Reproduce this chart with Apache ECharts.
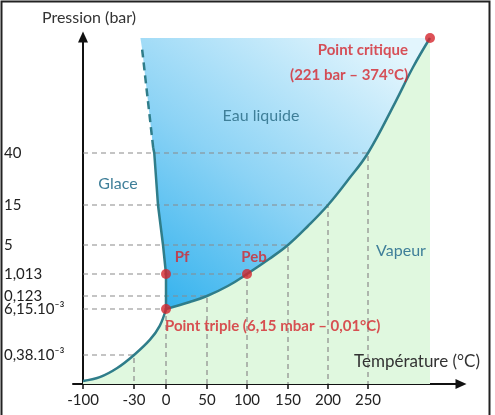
<!DOCTYPE html>
<html>
<head>
<meta charset="utf-8">
<script src="https://cdn.jsdelivr.net/npm/echarts@6/dist/echarts.min.js"></script>
<style>
  html, body { margin: 0; padding: 0; background: #fff; }
  #chart { width: 495px; height: 415px; }
</style>
</head>
<body>
<div id="chart"></div>
<script>
// graduations des axes
const tempTicks = [-100, -30, 0, 50, 100, 150, 200, 250];
const pressTicks = [0.00038, 0.00615, 0.123, 1.013, 5, 15, 40];
const pressLabels = ['0,38.10⁻³', '6,15.10⁻³', '0,123', '1,013', '5', '15', '40'];

// courbes d'equilibre, points [T (°C), P (bar)]
const sublimation = [[-100, 0.00004], [-77, 0.00009], [-53, 0.00021], [-30, 0.00038], [-15, 0.0023], [-6, 0.004], [0.01, 0.00615]];
const vaporisation = [[0.01, 0.00615], [29, 0.069], [50, 0.123], [76, 0.527], [100, 1.013], [127, 3.08], [150, 5], [175, 9.75],
  [200, 15], [225, 27], [250, 40], [304, 119], [340, 175], [374, 221]];
const fusion = [[0.01, 0.00615], [0, 1.013], [-2.8, 5], [-7.5, 15], [-11, 40], [-12, 48]];
const fusionHautePression = [[-12, 48], [-22.5, 205]];
const liquideHaut = [-24, 221];

// points remarquables
const pointTriple = [0.01, 0.00615];
const pointFusion = [0, 1.013];
const pointEbullition = [100, 1.013];
const pointCritique = [374, 221];

// lignes de rappel (sur la courbe)
const rappels = [[-30, 0.00038], [0, 0.00615], [50, 0.123], [100, 1.013], [150, 5], [200, 15], [250, 40]];

// echelle schematique (non lineaire) du diagramme
const xStops = [-100, -30, 0, 50, 100, 150, 200, 250, 374];
const xSlots = [0, 51, 83, 124, 164, 205, 245, 285, 347];
const yStops = [0, 0.00038, 0.00615, 0.123, 1.013, 5, 15, 40, 221];
const ySlots = [0, 29, 75, 88, 110, 139, 179, 231, 346];

function interp (v, stops, slots) {
  let i = 0;
  while (i < stops.length - 2 && v > stops[i + 1]) i++;
  const t = (v - stops[i]) / (stops[i + 1] - stops[i]);
  return slots[i] + t * (slots[i + 1] - slots[i]);
}
const sx = t => interp(t, xStops, xSlots);
const sy = p => interp(p, yStops, ySlots);
const pt = d => [sx(d[0]), sy(d[1])];

const CURVE = '#2f7d8a';
const RED = '#d4252d';
const REGION = '#3f7f99';
const FONT = 'Lato';

const chart = echarts.init(document.getElementById('chart'));

// contour de la zone liquide : haut, fusion (de haut en bas), triple, vaporisation
const liquide = [liquideHaut].concat(
  fusionHautePression.slice().reverse(),
  fusion.slice(1).reverse(),
  vaporisation
);

const rappelSeries = rappels.map(r => ({
  type: 'line',
  z: 2,
  silent: true,
  symbol: 'none',
  lineStyle: { color: '#8a8a8a', width: 1.2, type: [5, 4] },
  data: [[sx(-100), sy(r[1])], pt(r), [sx(r[0]), 0]]
}));

const redLabel = { color: RED, fontWeight: 'bold', fontSize: 15, fontFamily: FONT };
const regionText = (x, y, text) => ({
  type: 'text', x: x, y: y, z: 10,
  style: { text: text, font: '16px ' + FONT, fill: REGION, textAlign: 'center', textVerticalAlign: 'middle' }
});

chart.setOption({
  animation: false,
  textStyle: { fontFamily: FONT },
  grid: { left: 73, right: 34, top: 37, bottom: 31 },
  xAxis: [
    {
      type: 'value',
      min: -10,
      max: 378,
      splitLine: { show: false },
      axisLine: { lineStyle: { color: '#111', width: 2 }, symbol: ['none', 'triangle'], symbolSize: [10, 11] },
      axisTick: { customValues: tempTicks.map(sx), length: 5, lineStyle: { color: '#111', width: 1.5 } },
      axisLabel: {
        customValues: tempTicks.map(sx),
        margin: 9,
        fontSize: 15,
        color: '#222',
        formatter: v => String(tempTicks.find(t => Math.abs(sx(t) - v) < 0.5))
      }
    },
    {
      type: 'value',
      position: 'top',
      offset: -347,
      min: -10,
      max: 378,
      splitLine: { show: false },
      axisLine: { show: false },
      axisTick: { customValues: tempTicks.map(sx), length: 5, lineStyle: { color: '#111', width: 1.5 } },
      axisLabel: { show: false }
    }
  ],
  yAxis: {
    type: 'value',
    min: 0,
    max: 347,
    splitLine: { show: false },
    axisLine: { lineStyle: { color: '#111', width: 2 }, symbol: ['none', 'triangle'], symbolSize: [10, 11] },
    axisTick: { show: false },
    axisLabel: {
      customValues: pressTicks.map(sy),
      align: 'left',
      margin: 69,
      fontSize: 15,
      color: '#222',
      formatter: v => pressLabels[pressTicks.findIndex(p => Math.abs(sy(p) - v) < 0.5)]
    }
  },
  graphic: [
    { type: 'rect', z: 100, shape: { x: 1.5, y: 1.5, width: 488, height: 420 }, style: { fill: 'none', stroke: '#222', lineWidth: 2 } },
    { type: 'text', x: 89, y: 18, z: 10, style: { text: 'Pression (bar)', font: '16px ' + FONT, fill: '#333', textAlign: 'center', textVerticalAlign: 'middle' } },
    { type: 'text', x: 417, y: 362, z: 10, style: { text: 'Température (°C)', font: '17px ' + FONT, fill: '#333', textAlign: 'center', textVerticalAlign: 'middle' } },
    regionText(118, 184, 'Glace'),
    regionText(261, 116, 'Eau liquide'),
    regionText(401, 251, 'Vapeur')
  ],
  series: [
    // zone vapeur (sous la courbe)
    {
      type: 'line', z: 1, silent: true, symbol: 'none', smooth: 0.4,
      lineStyle: { width: 0 },
      areaStyle: { color: '#e0f8df', opacity: 1 },
      data: sublimation.map(pt)
    },
    {
      type: 'line', z: 1, silent: true, symbol: 'none', smooth: 0.4,
      lineStyle: { width: 0 },
      areaStyle: { color: '#e0f8df', opacity: 1 },
      data: vaporisation.map(pt)
    },
    // zone liquide
    {
      type: 'custom',
      z: 1,
      silent: true,
      data: liquide.map(pt),
      renderItem: function (params, api) {
        if (params.dataIndex !== 0) return;
        const points = liquide.map(d => api.coord(pt(d)));
        return {
          type: 'polygon',
          shape: { points: points },
          style: {
            fill: new echarts.graphic.LinearGradient(0.1, 1, 0.8, 0, [
              { offset: 0, color: '#36b3ee' },
              { offset: 0.45, color: '#8cd3f5' },
              { offset: 1, color: '#e2f5fd' }
            ])
          }
        };
      }
    },
    ...rappelSeries,
    // courbes
    {
      type: 'line', z: 3, silent: true, symbol: 'none', smooth: 0.4,
      lineStyle: { color: CURVE, width: 2.5 },
      data: sublimation.map(pt)
    },
    {
      type: 'line', z: 3, silent: true, symbol: 'none', smooth: 0.4,
      lineStyle: { color: CURVE, width: 2.5 },
      data: vaporisation.map(pt)
    },
    {
      type: 'line', z: 3, silent: true, symbol: 'none',
      lineStyle: { color: CURVE, width: 2.5 },
      data: fusion.map(pt)
    },
    {
      type: 'line', z: 3, silent: true, symbol: 'none',
      lineStyle: { color: CURVE, width: 2.5, type: [8, 5] },
      data: fusionHautePression.map(pt)
    },
    // points remarquables
    {
      type: 'scatter',
      z: 4,
      symbolSize: 10,
      itemStyle: { color: RED },
      data: [
        { value: pt(pointFusion), label: Object.assign({ show: true, formatter: 'Pf', position: 'top', offset: [16, 1] }, redLabel) },
        { value: pt(pointEbullition), label: Object.assign({ show: true, formatter: 'Peb', position: 'top', offset: [7, 1] }, redLabel) },
        { value: pt(pointTriple), label: Object.assign({ show: true, formatter: 'Point triple (6,15 mbar – 0,01°C)', position: 'bottom', align: 'left', offset: [-1, 0] }, redLabel) },
        { value: pt(pointCritique), label: Object.assign({ show: true, formatter: 'Point critique\n(221 bar – 374°C)', position: 'left', align: 'right', lineHeight: 25, offset: [-12, 25] }, redLabel) }
      ]
    }
  ]
});
</script>
</body>
</html>
